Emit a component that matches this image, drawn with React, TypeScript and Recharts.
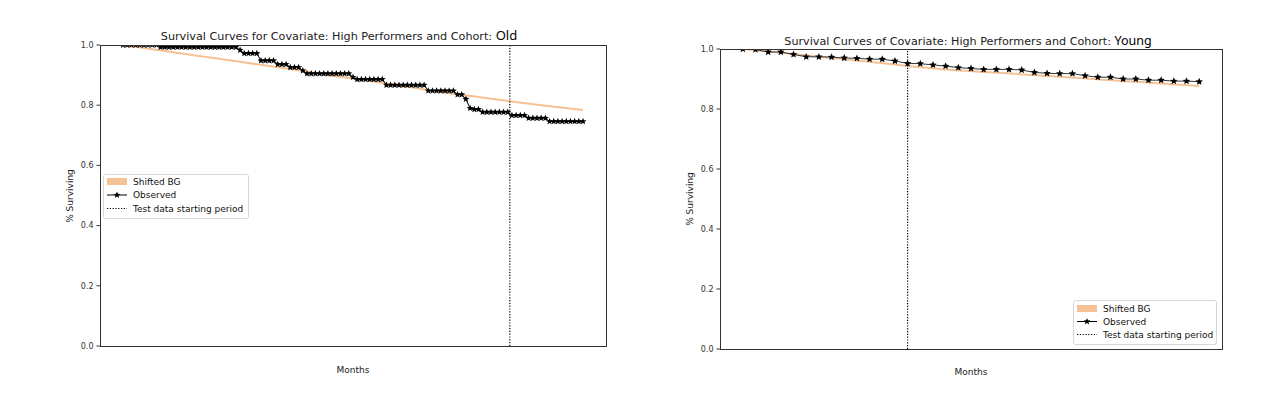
import React from "react";
import { LineChart, Line, XAxis, YAxis, ReferenceLine } from "recharts";

// Observed survival, one value per month (Old cohort)
const oldObserved = [
  1, 1, 1, 1, 1, 1, 1, 1, 1,
  0.993, 0.993, 0.993, 0.993, 0.993, 0.993, 0.993, 0.993, 0.993, 0.993,
  0.993, 0.993, 0.993, 0.993, 0.993, 0.993, 0.993, 0.993, 0.993,
  0.983,
  0.972, 0.972, 0.972, 0.972,
  0.948, 0.948, 0.948, 0.948,
  0.936, 0.936, 0.936,
  0.926, 0.926, 0.926,
  0.915,
  0.905, 0.905, 0.905, 0.905, 0.905, 0.905, 0.905, 0.905, 0.905, 0.905, 0.905,
  0.893,
  0.886, 0.886, 0.886, 0.886, 0.886, 0.886, 0.886,
  0.867, 0.867, 0.867, 0.867, 0.867, 0.867, 0.867, 0.867, 0.867, 0.867,
  0.848, 0.848, 0.848, 0.848, 0.848, 0.848, 0.848,
  0.835, 0.835,
  0.82,
  0.79,
  0.786, 0.786,
  0.777, 0.777, 0.777, 0.777, 0.777, 0.777, 0.777,
  0.766, 0.766, 0.766, 0.766,
  0.757, 0.757, 0.757, 0.757, 0.757,
  0.746, 0.746, 0.746, 0.746, 0.746, 0.746, 0.746, 0.746, 0.746,
];
const oldShiftedMonths = [0, 10, 20, 30, 40, 50, 60, 70, 80, 90, 100, 110];
const oldShiftedValues = [1.0, 0.98, 0.96, 0.94, 0.92, 0.898, 0.879, 0.857, 0.836, 0.818, 0.8, 0.784];
const oldTestStart = 92.5;

// Young cohort
const youngObserved = [
  1.0, 0.998, 0.99, 0.99, 0.982, 0.974, 0.974, 0.973, 0.97, 0.969,
  0.966, 0.966, 0.96, 0.952, 0.951, 0.947, 0.943, 0.938, 0.935, 0.932,
  0.932, 0.932, 0.93, 0.922, 0.919, 0.918, 0.918, 0.911, 0.906, 0.906,
  0.9, 0.9, 0.896, 0.896, 0.893, 0.893, 0.891,
];
const youngShiftedMonths = [0, 4, 8, 12, 16, 20, 24, 28, 32, 36];
const youngShiftedValues = [1.0, 0.983, 0.966, 0.948, 0.932, 0.921, 0.91, 0.899, 0.888, 0.877];
const youngTestStart = 13;

const yTicks = [0, 0.2, 0.4, 0.6, 0.8, 1.0];

const ORANGE = "#f5c296";
const FONT = "DejaVu Sans";

const starPath = (cx: number, cy: number, r: number) => {
  const pts: string[] = [];
  for (let i = 0; i < 10; i++) {
    const rad = i % 2 === 0 ? r : r * 0.45;
    const a = -Math.PI / 2 + (i * Math.PI) / 5;
    pts.push(`${(cx + rad * Math.cos(a)).toFixed(2)},${(cy + rad * Math.sin(a)).toFixed(2)}`);
  }
  return `M${pts.join("L")}Z`;
};

const makeStar = (r: number) => (props: any) => {
  const { cx, cy, index } = props;
  if (cx == null || cy == null) return <g key={`s-${index}`} />;
  return <path key={`s-${index}`} d={starPath(cx, cy, r)} fill="#000" />;
};

type PanelProps = {
  left: number;
  width: number;
  margin: { top: number; right: number; bottom: number; left: number };
  observed: number[];
  shiftedMonths: number[];
  shiftedValues: number[];
  testStart: number;
  starR: number;
  lineColor: string;
};

const Panel = ({ left, width, margin, observed, shiftedMonths, shiftedValues, testStart, starR, lineColor }: PanelProps) => {
  const obsData = observed.map((v, i) => ({ month: i, observed: v }));
  const bgData = shiftedMonths.map((m, i) => ({ month: m, shifted: shiftedValues[i] }));
  const last = observed.length - 1;
  const pad = last * 0.05;
  return (
    <div style={{ position: "absolute", left, top: 0 }}>
      <LineChart width={width} height={397} margin={margin}>
        <XAxis
          type="number"
          dataKey="month"
          domain={[-pad, last + pad]}
          allowDataOverflow
          hide
        />
        <YAxis
          type="number"
          domain={[0, 1]}
          ticks={yTicks}
          width={40}
          allowDataOverflow
          axisLine={false}
          tickLine={{ stroke: "#333" }}
          tickSize={3.5}
          tickMargin={3}
          tickFormatter={(v: number) => v.toFixed(1)}
          tick={{ fontSize: 8, fontFamily: FONT, fill: "#333" }}
        />
        <Line
          data={bgData}
          dataKey="shifted"
          type="monotone"
          stroke={ORANGE}
          strokeWidth={2}
          dot={false}
          isAnimationActive={false}
        />
        <Line
          data={obsData}
          dataKey="observed"
          type="linear"
          stroke={lineColor}
          strokeWidth={1}
          dot={makeStar(starR)}
          activeDot={false}
          isAnimationActive={false}
        />
        <ReferenceLine x={testStart} stroke="#000" strokeWidth={1.2} strokeDasharray="1.2 1.6" />
      </LineChart>
    </div>
  );
};

const LegendBox = ({ x, y, w, h, rows }: { x: number; y: number; w: number; h: number; rows: number[] }) => (
  <g>
    <rect x={x + 0.5} y={y + 0.5} width={w} height={h} rx={2} fill="#fff" fillOpacity={0.85} stroke="#d6d6d6" />
    <rect x={x + 4} y={rows[0] - 3.5} width={20} height={7} fill={ORANGE} />
    <line x1={x + 4} x2={x + 24} y1={rows[1]} y2={rows[1]} stroke="#000" strokeWidth={1} />
    <path d={starPath(x + 14, rows[1], 3.6)} fill="#000" />
    <line x1={x + 4} x2={x + 24} y1={rows[2]} y2={rows[2]} stroke="#000" strokeWidth={1.1} strokeDasharray="1.2 1.6" />
    <g fontFamily={FONT} fontSize={9} fill="#111">
      <text x={x + 30} y={rows[0] + 3.2}>Shifted BG</text>
      <text x={x + 30} y={rows[1] + 3.2}>Observed</text>
      <text x={x + 30} y={rows[2] + 3.2}>Test data starting period</text>
    </g>
  </g>
);

export default function App() {
  return (
    <div style={{ position: "absolute", left: 0, top: 0, width: 1287, height: 397, background: "#fff", overflow: "hidden" }}>
      <Panel
        left={0}
        width={640}
        margin={{ top: 45, right: 34, bottom: 51, left: 60 }}
        observed={oldObserved}
        shiftedMonths={oldShiftedMonths}
        shiftedValues={oldShiftedValues}
        testStart={oldTestStart}
        starR={3.6}
        lineColor="#000"
      />
      <Panel
        left={640}
        width={647}
        margin={{ top: 49, right: 65, bottom: 48, left: 40 }}
        observed={youngObserved}
        shiftedMonths={youngShiftedMonths}
        shiftedValues={youngShiftedValues}
        testStart={youngTestStart}
        starR={3.9}
        lineColor="#333"
      />
      <svg width={1287} height={397} style={{ position: "absolute", left: 0, top: 0, pointerEvents: "none" }}>
        <rect x={100.5} y={45.5} width={506} height={301} fill="none" stroke="#333" strokeWidth={1} />
        <rect x={720.5} y={49.5} width={502} height={300} fill="none" stroke="#333" strokeWidth={1} />

        <text x={339} y={40} textAnchor="middle" fontFamily={FONT} fontSize={11.2} fill="#222">
          {"Survival Curves for Covariate: High Performers and Cohort: "}
          <tspan fontFamily="Noto Sans" fontSize={13} fill="#000">Old</tspan>
        </text>
        <text x={968} y={45} textAnchor="middle" fontFamily={FONT} fontSize={11.2} fill="#222">
          {"Survival Curves of Covariate: High Performers and Cohort: "}
          <tspan fontFamily="Noto Sans" fontSize={12.5} fill="#000">Young</tspan>
        </text>

        <text x={353} y={373} textAnchor="middle" fontFamily={FONT} fontSize={9} fill="#222">Months</text>
        <text x={971} y={375} textAnchor="middle" fontFamily={FONT} fontSize={9} fill="#222">Months</text>
        <text transform="translate(72.5,196) rotate(-90)" textAnchor="middle" fontFamily={FONT} fontSize={9} fill="#222">% Surviving</text>
        <text transform="translate(693,199) rotate(-90)" textAnchor="middle" fontFamily={FONT} fontSize={9} fill="#222">% Surviving</text>

        <LegendBox x={103} y={174} w={145} h={44} rows={[181.5, 195, 208.5]} />
        <LegendBox x={1073} y={300} w={143} h={44} rows={[308.5, 321.5, 334.5]} />
      </svg>
    </div>
  );
}
